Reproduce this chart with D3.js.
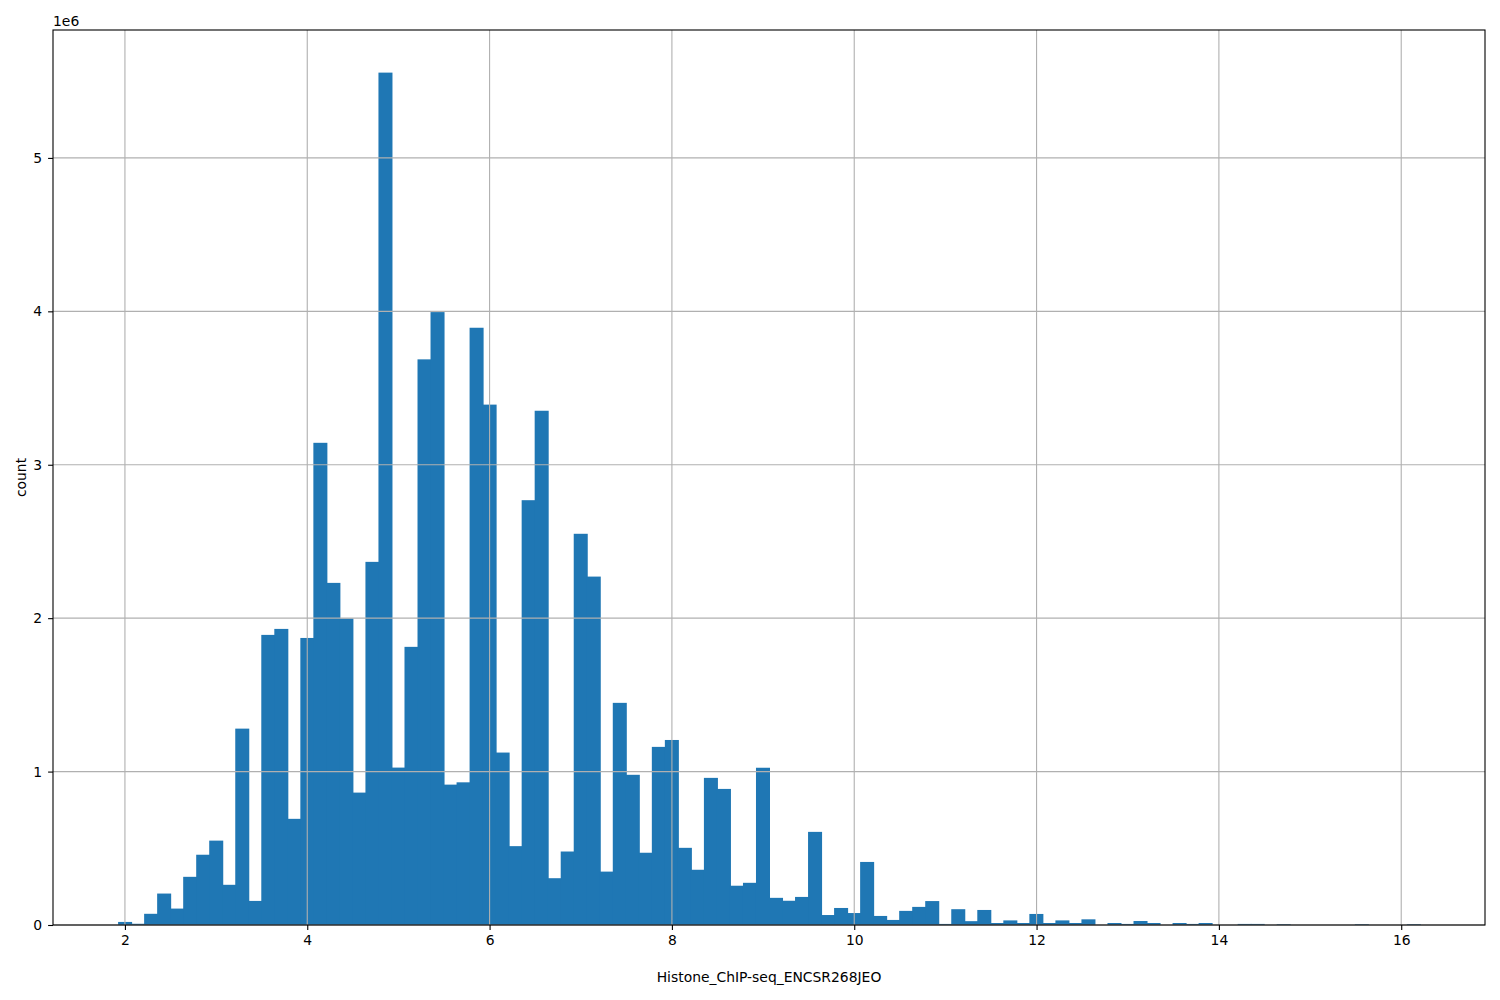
<!DOCTYPE html>
<html>
<head>
<meta charset="utf-8">
<script src="https://cdn.jsdelivr.net/npm/d3@7"></script>
<style>
  html, body { margin: 0; padding: 0; background: #ffffff; }
  svg { display: block; font-family: "DejaVu Sans", sans-serif; }
</style>
</head>
<body>
<svg id="chart" width="1500" height="1000"></svg>
<script>
// Histogram bins (100 equal-width bins), counts in units of 1e6
const binStart = 1.925;
const binWidth = 0.1428;
const counts = [
  0.020, 0.008, 0.073, 0.205, 0.107, 0.314, 0.458, 0.550, 0.262, 1.280,
  0.157, 1.891, 1.930, 0.692, 1.871, 3.143, 2.230, 1.998, 0.863, 2.367,
  5.556, 1.026, 1.813, 3.687, 3.995, 0.915, 0.930, 3.893, 3.392, 1.124,
  0.514, 2.769, 3.352, 0.305, 0.479, 2.550, 2.271, 0.348, 1.448, 0.979,
  0.471, 1.161, 1.206, 0.503, 0.360, 0.959, 0.887, 0.256, 0.275, 1.025,
  0.177, 0.158, 0.183, 0.607, 0.065, 0.111, 0.078, 0.411, 0.059, 0.033,
  0.092, 0.118, 0.156, 0.007, 0.103, 0.025, 0.098, 0.013, 0.030, 0.013,
  0.072, 0.013, 0.030, 0.013, 0.037, 0.000, 0.013, 0.007, 0.026, 0.013,
  0.000, 0.013, 0.007, 0.013, 0.000, 0.000, 0.007, 0.007, 0.000, 0.005,
  0.000, 0.000, 0.000, 0.000, 0.000, 0.005, 0.000, 0.000, 0.000, 0.005
];
const xTicks = [2, 4, 6, 8, 10, 12, 14, 16];
const yTicks = [0, 1, 2, 3, 4, 5];
const xLabel = "Histone_ChIP-seq_ENCSR268JEO";
const yLabel = "count";
const yOffsetText = "1e6";

const svg = d3.select("#chart");
const L = 53, R = 1485, T = 30, B = 925;

const bins = counts.map((c, i) => ({ x0: binStart + i * binWidth, x1: binStart + (i + 1) * binWidth, c }));
const xMin = binStart, xMax = binStart + counts.length * binWidth;
const pad = (xMax - xMin) * 0.05;
const x = d3.scaleLinear().domain([xMin - pad, xMax + pad]).range([L, R]);
const y = d3.scaleLinear().domain([0, d3.max(counts) * 1.05]).range([B, T]);

// bars (slight overlap to avoid anti-aliasing seams)
svg.append("g").selectAll("rect").data(bins.filter(d => d.c > 0)).join("rect")
  .attr("x", d => x(d.x0))
  .attr("width", d => x(d.x1) - x(d.x0) + 1)
  .attr("y", d => y(d.c))
  .attr("height", d => y(0) - y(d.c))
  .attr("fill", "#1f77b4");

// grid (drawn on top like the reference)
const grid = svg.append("g").attr("stroke", "#b0b0b0").attr("stroke-width", 1.1);
grid.selectAll("line.v").data(xTicks).join("line")
  .attr("x1", d => x(d)).attr("x2", d => x(d)).attr("y1", T).attr("y2", B);
grid.selectAll("line.h").data(yTicks).join("line")
  .attr("y1", d => y(d)).attr("y2", d => y(d)).attr("x1", L).attr("x2", R);

// axes
const fs = "13.9px";
const xAxis = svg.append("g").attr("transform", `translate(0,${B})`)
  .call(d3.axisBottom(x).tickValues(xTicks).tickFormat(d3.format("d")).tickSize(4.9).tickPadding(4.9));
const yAxis = svg.append("g").attr("transform", `translate(${L},0)`)
  .call(d3.axisLeft(y).tickValues(yTicks).tickFormat(d3.format("d")).tickSize(4.9).tickPadding(6));
[xAxis, yAxis].forEach(a => {
  a.select(".domain").remove();
  a.selectAll(".tick line").attr("stroke", "#000").attr("stroke-width", 1.1);
  a.selectAll(".tick text").attr("fill", "#000").style("font-size", fs).style("font-family", "DejaVu Sans");
});

// frame
svg.append("rect").attr("x", L).attr("y", T).attr("width", R - L).attr("height", B - T)
  .attr("fill", "none").attr("stroke", "#000").attr("stroke-width", 1.1);

// offset text
svg.append("text").attr("x", L).attr("y", 26).text(yOffsetText)
  .style("font-size", fs).attr("fill", "#000");

// labels
svg.append("text").attr("x", (L + R) / 2).attr("y", 982).attr("text-anchor", "middle")
  .text(xLabel).style("font-size", fs).attr("fill", "#000");
svg.append("text").attr("transform", `translate(26,${(T + B) / 2}) rotate(-90)`)
  .attr("text-anchor", "middle").text(yLabel).style("font-size", fs).attr("fill", "#000");
</script>
</body>
</html>
